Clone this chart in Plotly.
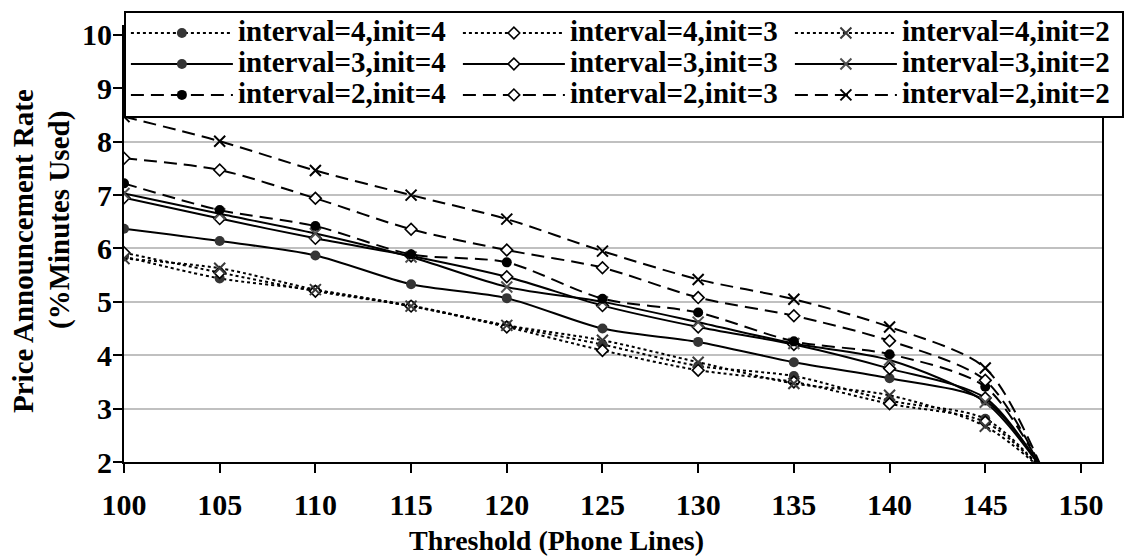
import plotly.graph_objects as go

# Threshold values (number of phone lines)
thresholds = [100, 105, 110, 115, 120, 125, 130, 135, 140, 145, 148]

# Price announcement rate (% of minutes used) per interval / initial setting
i4_init4 = [5.85, 5.44, 5.22, 4.93, 4.55, 4.20, 3.80, 3.61, 3.15, 2.81, 1.85]
i4_init3 = [5.92, 5.55, 5.20, 4.92, 4.53, 4.09, 3.72, 3.50, 3.09, 2.75, 1.85]
i4_init2 = [5.81, 5.63, 5.23, 4.92, 4.56, 4.28, 3.87, 3.47, 3.25, 2.67, 1.85]
i3_init4 = [6.37, 6.14, 5.87, 5.33, 5.07, 4.50, 4.25, 3.87, 3.57, 3.15, 1.85]
i3_init3 = [6.95, 6.56, 6.19, 5.86, 5.47, 4.93, 4.53, 4.20, 3.75, 3.20, 1.85]
i3_init2 = [7.03, 6.65, 6.28, 5.84, 5.28, 5.00, 4.62, 4.22, 3.91, 3.12, 1.85]
i2_init4 = [7.22, 6.72, 6.42, 5.89, 5.74, 5.06, 4.80, 4.26, 4.02, 3.41, 1.85]
i2_init3 = [7.69, 7.47, 6.94, 6.36, 5.97, 5.64, 5.08, 4.74, 4.27, 3.53, 1.85]
i2_init2 = [8.47, 8.01, 7.46, 7.00, 6.55, 5.95, 5.42, 5.05, 4.53, 3.76, 1.85]

x_ticks = [100, 105, 110, 115, 120, 125, 130, 135, 140, 145, 150]
y_ticks = [2, 3, 4, 5, 6, 7, 8, 9, 10]

# line dash by interval
dash_by_interval = {4: "3px,3px", 3: "solid", 2: "13px,7px"}

series = [
    (4, 4, i4_init4), (4, 3, i4_init3), (4, 2, i4_init2),
    (3, 4, i3_init4), (3, 3, i3_init3), (3, 2, i3_init2),
    (2, 4, i2_init4), (2, 3, i2_init3), (2, 2, i2_init2),
]


def marker_for(interval, init):
    if init == 4:
        col = "#000000" if interval == 2 else "#353535"
        return dict(symbol="circle", size=10, color=col, line=dict(width=0))
    if init == 3:
        return dict(symbol="diamond", size=9, color="white",
                    line=dict(width=1.6, color="#000000"))
    col = {4: "#3a3a3a", 3: "#505050", 2: "#000000"}[interval]
    return dict(symbol="x-thin-open", size=11, color=col,
                line=dict(width=2, color=col))


fig = go.Figure()
for interval, init, vals in series:
    label = f"interval={interval},init={init}"
    fig.add_trace(go.Scatter(
        x=thresholds, y=vals, mode="lines+markers",
        name=f"<span style='font-size:29px'>{label}</span>",
        line=dict(color="black", width=2, dash=dash_by_interval[interval],
                  shape="spline", smoothing=0.8),
        marker=marker_for(interval, init),
    ))

# plot-area geometry in pixels
W, H = 1128, 556
L, R, T, B = 124, 26, 25, 94
PW, PH = W - L - R, H - T - B


def px_x(px):
    return (px - L) / PW


def px_y(py):
    return (H - B - py) / PH


font_family = "Liberation Serif"

fig.update_layout(
    width=W, height=H,
    margin=dict(l=L, r=R, t=T, b=B, autoexpand=False),
    paper_bgcolor="white", plot_bgcolor="white",
    font=dict(family=font_family, size=28, color="black", weight="bold"),
    showlegend=True,
    legend=dict(
        orientation="h", traceorder="normal",
        x=-0.0001, y=px_y(10.5), xanchor="left", yanchor="top",
        bgcolor="white", bordercolor="black", borderwidth=2,
        font=dict(family=font_family, size=21.5, color="black", weight="bold"),
        itemwidth=102, entrywidth=215, entrywidthmode="pixels",
    ),
    xaxis=dict(
        range=[100, 151.1], tickvals=x_ticks, ticktext=[str(v) for v in x_ticks],
        showgrid=False, zeroline=False,
        showline=True, linecolor="black", linewidth=2, mirror=False,
        ticks="outside", ticklen=9, tickwidth=2, tickcolor="black",
        tickfont=dict(family=font_family, size=30, weight="bold"),
        ticklabelstandoff=6,
    ),
    yaxis=dict(
        range=[2, 10.187], tickvals=y_ticks, ticktext=[str(v) for v in y_ticks],
        showgrid=True, gridcolor="#c0c0c0", gridwidth=2, zeroline=False,
        showline=True, linecolor="black", linewidth=2, mirror=True,
        ticks="outside", ticklen=9, tickwidth=2, tickcolor="black",
        tickfont=dict(family=font_family, size=30, weight="bold"),
        ticklabelstandoff=-5,
    ),
    annotations=[
        dict(text="Threshold (Phone Lines)", xref="paper", yref="paper",
             x=px_x(556), y=px_y(540), xanchor="center", yanchor="middle",
             showarrow=False, font=dict(family=font_family, size=28, weight="bold")),
        dict(text="Price Announcement Rate", xref="paper", yref="paper",
             x=px_x(23), y=px_y(251), xanchor="center", yanchor="middle",
             textangle=-90, showarrow=False,
             font=dict(family=font_family, size=29, weight="bold")),
        dict(text="(%Minutes Used)", xref="paper", yref="paper",
             x=px_x(59), y=px_y(220), xanchor="center", yanchor="middle",
             textangle=-90, showarrow=False,
             font=dict(family=font_family, size=29, weight="bold")),
    ],
)

fig.write_html("out.html")
